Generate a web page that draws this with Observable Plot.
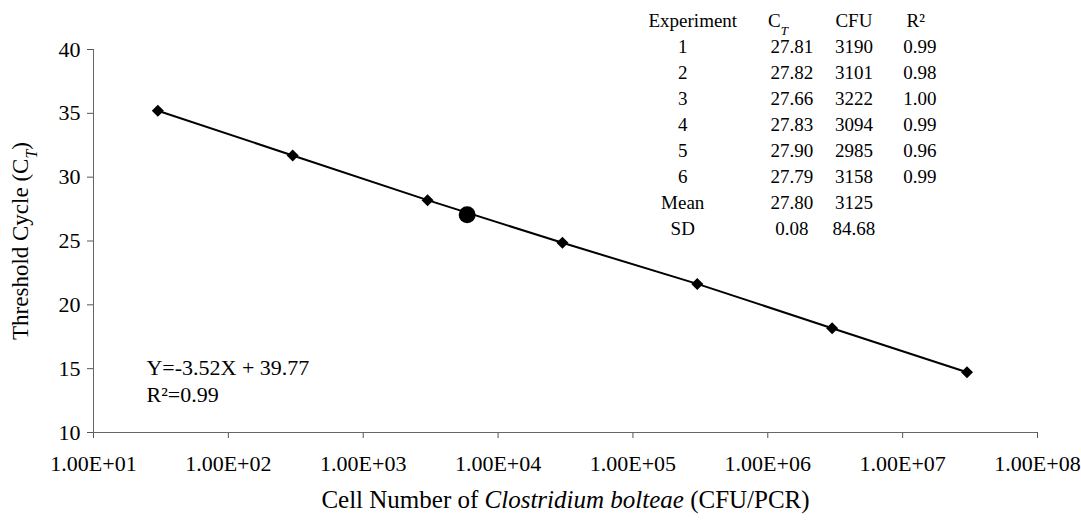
<!DOCTYPE html>
<html>
<head>
<meta charset="utf-8">
<script src="https://cdn.jsdelivr.net/npm/d3@7"></script>
<script src="https://cdn.jsdelivr.net/npm/@observablehq/plot@0.6"></script>
<style>
  html, body { margin: 0; padding: 0; background: #fff; }
  #chart svg { display: block; }
</style>
</head>
<body>
<div id="chart"></div>
<script>
// ---- data ----
const cellNumbers = [3e1, 3e2, 3e3, 3e4, 3e5, 3e6, 3e7];
const thresholdCycles = [35.2, 31.7, 28.2, 24.86, 21.64, 18.17, 14.72];
const unknownCells = [5900];
const unknownCt = [27.05];

const xTicks = [1e1, 1e2, 1e3, 1e4, 1e5, 1e6, 1e7, 1e8];
const yTicks = [10, 15, 20, 25, 30, 35, 40];

const tableHeader = ["Experiment", "C_T", "CFU", "R²"];
const experiments = ["1", "2", "3", "4", "5", "6", "Mean", "SD"];
const ctValues = ["27.81", "27.82", "27.66", "27.83", "27.90", "27.79", "27.80", "0.08"];
const cfuValues = ["3190", "3101", "3222", "3094", "2985", "3158", "3125", "84.68"];
const r2Values = ["0.99", "0.98", "1.00", "0.99", "0.96", "0.99", "", ""];

const equationLines = ["Y=-3.52X + 39.77", "R²=0.99"];

// ---- layout (in data space) ----
const headerX = [2.78e5, 1.19e6, 4.35e6, 1.25e7];
const colX = [2.34e5, 1.51e6, 4.35e6, 1.34e7];
const headerY = 42.27, rowStep = 2.036;
const eqX = 24.7, eqY = [15.09, 12.98];

const cells = [];
tableHeader.forEach((t, j) => cells.push({x: headerX[j], y: headerY, text: t}));
[experiments, ctValues, cfuValues, r2Values].forEach((col, j) => {
  col.forEach((t, i) => { if (t) cells.push({x: colX[j], y: headerY - rowStep * (i + 1), text: t}); });
});
const eqCells = equationLines.map((t, i) => ({x: eqX, y: eqY[i], text: t}));
const pts = cellNumbers.map((x, i) => ({x, y: thresholdCycles[i]}));
const unk = unknownCells.map((x, i) => ({x, y: unknownCt[i]}));

const FONT = "'Liberation Serif', 'Times New Roman', serif";

const chart = Plot.plot({
  width: 1081,
  height: 523,
  marginLeft: 93,
  marginRight: 44,
  marginTop: 49,
  marginBottom: 91,
  style: {fontFamily: FONT, fontSize: "19px", color: "#000", background: "#fff", overflow: "visible"},
  x: {type: "log", domain: [1e1, 1e8]},
  y: {domain: [10, 40]},
  marks: [
    Plot.axisX({
      ticks: xTicks, tickSize: 6, tickPadding: 17,
      tickFormat: d => "1.00E+" + String(Math.round(Math.log10(d))).padStart(2, "0"),
      label: "Cell Number of Clostridium bolteae (CFU/PCR)", labelAnchor: "center", labelArrow: "none",
      labelOffset: 75, fontSize: 22, stroke: "#555"
    }),
    Plot.axisY({
      ticks: yTicks, tickSize: 6, tickPadding: 7,
      label: "Threshold Cycle (C_T)", labelAnchor: "center", labelArrow: "none",
      labelOffset: 82, fontSize: 22, stroke: "#555"
    }),
    Plot.ruleX([1e1], {stroke: "#666", strokeWidth: 1}),
    Plot.ruleY([10], {stroke: "#666", strokeWidth: 1}),
    Plot.line(pts, {x: "x", y: "y", stroke: "#000", strokeWidth: 2}),
    Plot.dot(pts, {x: "x", y: "y", symbol: "square", rotate: 45, r: 4.8, fill: "#000", stroke: "none"}),
    Plot.dot(unk, {x: "x", y: "y", r: 8.5, fill: "#000", stroke: "none"}),
    Plot.text(cells, {x: "x", y: "y", text: "text", textAnchor: "middle", fontSize: 19, fill: "#000"}),
    Plot.text(eqCells, {x: "x", y: "y", text: "text", textAnchor: "start", fontSize: 22, fill: "#000"})
  ]
});

// rich text fixes: subscripts / italics
const svg = d3.select(chart);
svg.selectAll("text").each(function() {
  const el = d3.select(this);
  const t = this.textContent;
  if (t === "C_T") {
    el.text("C");
    el.append("tspan").attr("font-style", "italic").attr("font-size", "13px").attr("baseline-shift", "sub").text("T");
  } else if (t === "Threshold Cycle (C_T)") {
    el.attr("font-size", 23);
    el.text("Threshold Cycle (C");
    el.append("tspan").attr("font-style", "italic").attr("font-size", "16px").attr("baseline-shift", "sub").text("T");
    el.append("tspan").text(")");
  } else if (t === "Cell Number of Clostridium bolteae (CFU/PCR)") {
    el.attr("font-size", 25);
    el.text("Cell Number of ");
    el.append("tspan").attr("font-style", "italic").text("Clostridium bolteae");
    el.append("tspan").text(" (CFU/PCR)");
  }
});

document.getElementById("chart").appendChild(chart);
</script>
</body>
</html>
